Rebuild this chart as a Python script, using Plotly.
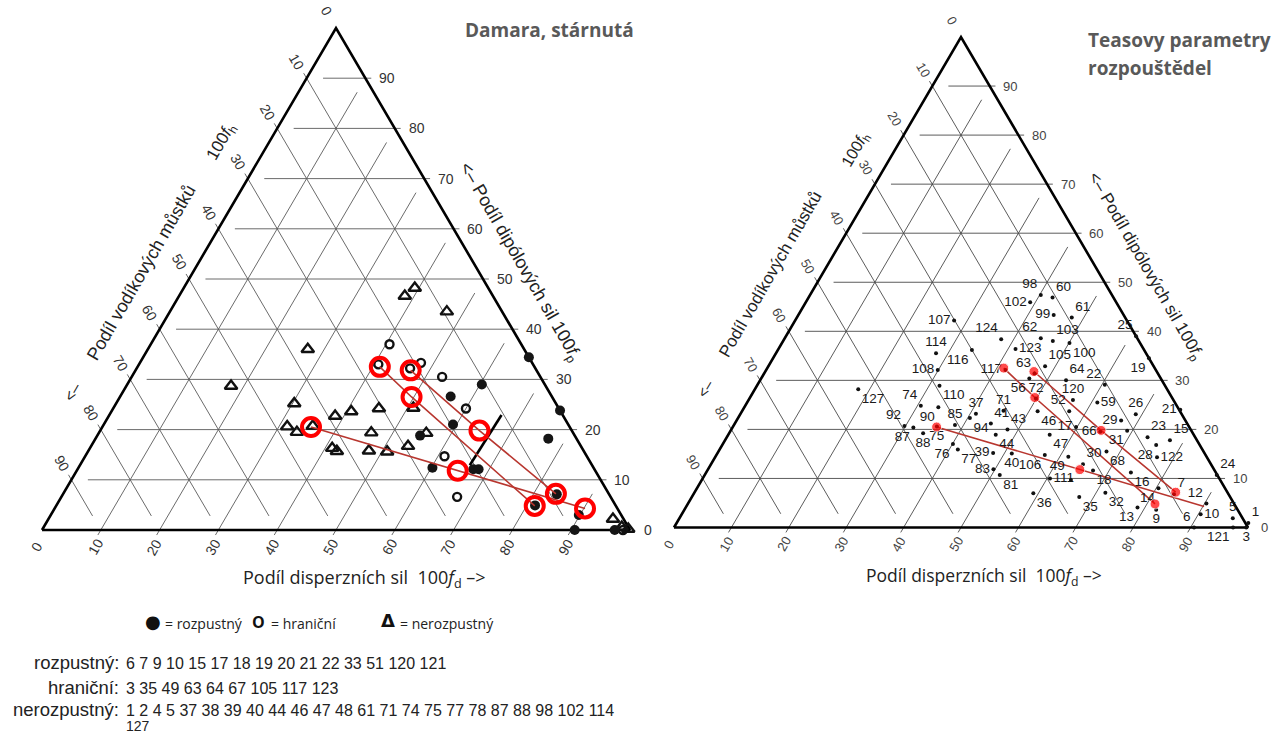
import plotly.graph_objects as go

W, H = 1286, 734

# ---------------- data ----------------
TICKS = [0, 10, 20, 30, 40, 50, 60, 70, 80, 90]
GRID = [10, 20, 30, 40, 50, 60, 70, 80, 90]

# Damara, aged: solubility test results, coordinates (100 fd, 100 fp); 100 fh = 100 - fd - fp
soluble_fd = [65.6, 76.2, 60.3, 56.2, 59.4, 54.9, 77.0, 60.2, 67.3, 68.2, 81.4, 84.0, 89.8, 90.6, 97.4]
soluble_fp = [34.4, 23.8, 29.0, 26.6, 21.0, 18.8, 18.2, 12.4, 12.1, 12.1, 4.9, 7.1, 3.0, 0.0, 0.0]
border_fd = [40.6, 40.7, 46.5, 47.8, 52.8, 60.0, 61.1, 67.3, 98.8]
border_fp = [37.0, 33.0, 32.2, 33.3, 30.5, 24.2, 14.7, 6.6, 0.0]
insol_fd = [38.4, 39.3, 47.1, 27.2, 17.8, 30.3, 31.4, 33.6, 35.7, 38.5, 40.8, 45.2, 51.0, 46.3,
            41.2, 42.3, 47.7, 50.9, 53.9, 55.7, 96.0, 98.3, 99.6]
insol_fp = [46.6, 48.2, 43.5, 36.0, 28.7, 25.2, 20.6, 19.5, 20.7, 22.7, 23.6, 24.2, 24.3, 19.4,
            16.3, 15.7, 15.8, 15.6, 16.7, 19.3, 2.2, 0.6, 0.2]
boundary_fd = [66.7, 66.3]
boundary_fp = [22.9, 12.9]

# solvent mixtures (red)
mix1_fd = [41.2, 49.6, 81.4]
mix1_fp = [32.5, 26.5, 4.8]
mix2_fd = [46.8, 64.5, 83.8]
mix2_fp = [31.8, 19.8, 7.2]
mix3_fd = [35.5, 64.8, 90.2]
mix3_fp = [20.5, 11.8, 4.3]

# Teas parameters of solvents (number, 100 fd, 100 fp)
solvent_no = [98, 60, 102, 99, 61, 107, 124, 62, 103, 123, 100, 114, 116, 105, 108, 117, 63, 64, 56, 22,
              110, 127, 120, 72, 74, 90, 52, 59, 37, 71, 46, 26, 94, 41, 29, 21, 92, 87, 85, 75,
              43, 17, 66, 31, 23, 15, 88, 44, 47, 76, 28, 77, 68, 39, 40, 106, 122, 49, 30, 16,
              83, 81, 111, 18, 24, 36, 35, 32, 7, 14, 12, 13, 9, 10, 6, 5, 1, 121, 3, 19, 25]
solvent_fd = [40.2, 42.5, 39.1, 44.5, 47.9, 27.7, 37.8, 44.6, 47.0, 41.3, 50.1, 27.9, 33.8, 48.2, 29.9, 41.7, 47.1, 53.3, 46.7, 60.5,
              31.8, 18.0, 56.5, 49.9, 30.6, 33.8, 57.0, 61.0, 41.0, 45.5, 51.5, 68.9, 40.4, 44.6, 67.0, 76.2, 29.8, 31.5, 38.5, 35.5,
              48.1, 59.8, 64.5, 69.1, 73.3, 77.5, 33.8, 46.6, 56.0, 40.1, 75.6, 41.5, 67.6, 48.0, 51.3, 57.2, 77.0, 61.5, 64.8, 74.0,
              49.7, 51.4, 60.5, 67.2, 89.2, 59.1, 67.5, 71.6, 83.7, 80.4, 90.3, 78.7, 82.2, 90.4, 90.6, 96.4, 99.6, 97.4, 99.7, 65.5, 61.0]
solvent_fp = [47.4, 46.9, 45.9, 43.3, 42.8, 42.2, 38.4, 38.6, 38.0, 36.4, 37.6, 35.5, 36.2, 32.9, 32.1, 32.1, 31.4, 30.0, 30.4, 29.1,
              28.9, 28.2, 26.0, 26.3, 24.8, 24.5, 23.7, 25.5, 23.2, 23.8, 23.7, 23.1, 22.3, 21.2, 21.8, 24.0, 20.7, 20.4, 20.9, 20.6,
              20.0, 20.5, 19.5, 19.7, 18.4, 17.8, 19.2, 18.9, 18.9, 17.0, 16.8, 15.9, 15.5, 15.2, 15.1, 14.8, 14.3, 14.4, 12.9, 11.2,
              11.9, 10.7, 10.0, 11.6, 10.7, 7.0, 6.2, 7.1, 6.8, 8.0, 4.9, 4.1, 3.6, 2.7, 0.0, 1.9, 0.9, 0.0, 0.0, 34.5, 39.0]
extra_fd = [64.3]
extra_fp = [9.7]

soluble_ids = [6, 7, 9, 10, 15, 17, 18, 19, 20, 21, 22, 33, 51, 120, 121]
border_ids = [3, 35, 49, 63, 64, 67, 105, 117, 123]
insol_ids = [1, 2, 4, 5, 37, 38, 39, 40, 44, 46, 47, 48, 61, 71, 74, 75, 77, 78, 87, 88, 98, 102, 114]
insol_ids_line2 = [127]

# label placement (style)
label_pos = ["top left", "top right", "middle left", "middle left", "top right", "middle left", "top left", "top left", "top right", "middle right",
             "bottom right", "top center", "bottom left", "top right", "middle left", "middle left", "top left", "top right", "bottom left", "top left",
             "bottom right", "bottom right", "top center", "top center", "top left", "bottom left", "top left", "middle right", "top center", "top center",
             "bottom right", "top center", "bottom right", "top right", "middle left", "middle left", "top left", "bottom left", "top center", "bottom center",
             "top right", "middle left", "middle left", "bottom left", "top right", "top right", "bottom center", "bottom right", "bottom right", "bottom left",
             "bottom left", "bottom right", "bottom right", "middle left", "bottom center", "bottom left", "middle right", "bottom left", "top right", "bottom right",
             "middle left", "bottom right", "middle right", "bottom right", "top right", "bottom right", "bottom right", "bottom right", "top right", "bottom left",
             "top left", "bottom left", "bottom center", "middle right", "top left", "top center", "top right", "bottom left", "bottom center", "bottom left", "top left"]


# ---------------- geometry ----------------
def to_xy(fd, fp):
    xs, ys = [], []
    for a, b in zip(fd, fp):
        if a is None:
            xs.append(None); ys.append(None)
        else:
            xs.append(a + b / 2.0); ys.append(b)
    return xs, ys


def axis_ranges(bx0, bx1, yb, ya, px0, px1):
    sx = (bx1 - bx0) / 100.0
    sy = (yb - ya) / 100.0
    return [(px0 - bx0) / sx, (px1 - bx0) / sx], [(yb - H) / sy, yb / sy]


L_xr, L_yr = axis_ranges(42, 630, 530, 28, 0, W / 2)
R_xr, R_yr = axis_ranges(674, 1248, 527.5, 37, W / 2, W)


def grid_xy(ext=1.0, gap=2.8):
    fd, fp = [], []
    for k in GRID:
        for a, b in [((100 - k + ext, k), (gap, k)),
                     ((-ext, 100 - k + ext), (100 - k - gap, gap)),
                     ((k, -ext), (k, 100 - k - gap))]:
            fd += [a[0], b[0], None]
            fp += [a[1], b[1], None]
    return to_xy(fd, fp)


fig = go.Figure()
RED_LINE = "#b8362f"
RED = "#ff0000"


def add_frame(xa, ya, gcol, gw):
    gx, gy = grid_xy()
    fig.add_trace(go.Scatter(x=gx, y=gy, mode="lines", line=dict(color=gcol, width=gw),
                             xaxis=xa, yaxis=ya, hoverinfo="skip"))
    ex, ey = to_xy([0, 100, 0, 0], [0, 0, 100, 0])
    fig.add_trace(go.Scatter(x=ex, y=ey, mode="lines", line=dict(color="black", width=2.6),
                             xaxis=xa, yaxis=ya, hoverinfo="skip"))


# ----- left chart -----
add_frame("x", "y", "#5a5a5a", 0.9)
bx, by = to_xy(boundary_fd, boundary_fp)
fig.add_trace(go.Scatter(x=bx, y=by, mode="lines", line=dict(color="black", width=2.6), xaxis="x", yaxis="y"))
ix, iy = to_xy(insol_fd, insol_fp)
fig.add_trace(go.Scatter(x=ix, y=iy, mode="markers", xaxis="x", yaxis="y",
                         marker=dict(symbol="triangle-up-open", size=11, color="#111", line=dict(width=2.4, color="#111"))))
ox, oy = to_xy(border_fd, border_fp)
fig.add_trace(go.Scatter(x=ox, y=oy, mode="markers", xaxis="x", yaxis="y",
                         marker=dict(symbol="circle-open", size=8, color="#111", line=dict(width=2.4, color="#111"))))
sx_, sy_ = to_xy(soluble_fd, soluble_fp)
fig.add_trace(go.Scatter(x=sx_, y=sy_, mode="markers", xaxis="x", yaxis="y",
                         marker=dict(symbol="circle", size=10, color="#151515")))
for mfd, mfp in [(mix1_fd, mix1_fp), (mix2_fd, mix2_fp), (mix3_fd, mix3_fp)]:
    mx, my = to_xy(mfd, mfp)
    fig.add_trace(go.Scatter(x=mx, y=my, mode="lines", line=dict(color=RED_LINE, width=1.6), xaxis="x", yaxis="y"))
for mfd, mfp in [(mix1_fd, mix1_fp), (mix2_fd, mix2_fp), (mix3_fd, mix3_fp)]:
    mx, my = to_xy(mfd, mfp)
    fig.add_trace(go.Scatter(x=mx, y=my, mode="markers", xaxis="x", yaxis="y",
                             marker=dict(symbol="circle-open", size=18, color=RED, line=dict(width=4, color=RED))))

# ----- right chart -----
add_frame("x2", "y2", "#4a4a4a", 0.9)
for mfd, mfp in [(mix1_fd, mix1_fp), (mix2_fd, mix2_fp), (mix3_fd, mix3_fp)]:
    mx, my = to_xy(mfd, mfp)
    fig.add_trace(go.Scatter(x=mx, y=my, mode="lines", line=dict(color=RED_LINE, width=1.6), xaxis="x2", yaxis="y2"))
qx, qy = to_xy(solvent_fd, solvent_fp)
fig.add_trace(go.Scatter(x=qx, y=qy, mode="markers+text", xaxis="x2", yaxis="y2",
                         text=[str(n) for n in solvent_no], textposition=label_pos,
                         textfont=dict(family="Liberation Sans", size=13.5, color="#1a1a1a"),
                         marker=dict(size=4, color="#111")))
ex_, ey_ = to_xy(extra_fd, extra_fp)
fig.add_trace(go.Scatter(x=ex_, y=ey_, mode="markers", xaxis="x2", yaxis="y2", marker=dict(size=4, color="#111")))
for mfd, mfp, sizes in [(mix1_fd, mix1_fp, [10, 10, 10]), (mix2_fd, mix2_fp, [10, 10, 10]), (mix3_fd, mix3_fp, [10, 10, 0])]:
    mx, my = to_xy(mfd, mfp)
    fig.add_trace(go.Scatter(x=mx, y=my, mode="markers", xaxis="x2", yaxis="y2",
                             marker=dict(size=sizes, color=RED)))

# ---------------- annotations ----------------
ann = []


def txt(text, x, y, size, color="#222", family="Liberation Sans", angle=0, xanchor="center",
        yanchor="middle", xref="paper", yref="paper"):
    if xref == "paper":
        x, y = x / W, 1 - y / H
    ann.append(dict(text=text, x=x, y=y, xref=xref, yref=yref, showarrow=False, textangle=angle,
                    xanchor=xanchor, yanchor=yanchor, font=dict(family=family, size=size, color=color)))


def tick_labels(xr, yr, size, color):
    for k in TICKS:
        # right edge (fp)
        u, v = to_xy([100 - k + 2.0], [k])
        txt(str(k), u[0], v[0], size, color, xanchor="left", xref=xr, yref=yr)
        # left edge (fh)
        u, v = to_xy([-3.3], [103.3 - k])
        txt(str(k), u[0], v[0], size, color, angle=60, xref=xr, yref=yr)
        # bottom (fd)
        u, v = to_xy([k + 0.8], [-3.4])
        txt(str(k), u[0], v[0], size, color, angle=-60, xref=xr, yref=yr)


tick_labels("x", "y", 14, "#333")
tick_labels("x2", "y2", 13, "#444")

# axis titles - left chart
txt("Podíl vodíkových můstků", 141, 273, 18, angle=-60)
txt("100<i>f</i><sub>h</sub>", 222, 142, 17, angle=-60)
txt("<–", 72, 392, 16, angle=-60)
txt("<– Podíl dipólových sil 100<i>f</i><sub>p</sub>", 520, 262, 18, angle=60)
txt("Podíl disperzních sil  100<i>f</i><sub>d</sub> –>", 365, 578, 18, family="Open Sans")
# axis titles - right chart
txt("Podíl vodíkových můstků", 770, 274, 17, angle=-60)
txt("100<i>f</i><sub>h</sub>", 855, 150, 16, angle=-60)
txt("<–", 705, 388, 15, angle=-60)
txt("<– Podíl dipólových sil 100<i>f</i><sub>p</sub>", 1145, 267, 17, angle=60)
txt("Podíl disperzních sil  100<i>f</i><sub>d</sub> –>", 984, 576, 17.5, family="Open Sans")

# titles
txt("<b>Damara, stárnutá</b>", 463, 30, 19, color="#595959", family="Open Sans", xanchor="left")
txt("<b>Teasovy parametry</b>", 1086, 40, 19, color="#595959", family="Open Sans", xanchor="left")
txt("<b>rozpouštědel</b>", 1086, 68, 19, color="#595959", family="Open Sans", xanchor="left")

# legend line
txt("●", 153, 621, 18, color="#111", family="DejaVu Sans")
txt("= rozpustný", 163, 623, 14, family="Open Sans", xanchor="left")
txt("<b>O</b>", 258, 622, 16, color="#111", family="Open Sans")
txt("= hraniční", 269, 623, 14, family="Open Sans", xanchor="left")
txt("<b>Δ</b>", 388, 620, 18, color="#111", family="DejaVu Sans")
txt("= nerozpustný", 398, 623, 14, family="Open Sans", xanchor="left")

# lists
txt("rozpustný:", 121, 662, 18.5, xanchor="right")
txt(" ".join(str(i) for i in soluble_ids), 124, 663, 16, xanchor="left")
txt("hraniční:", 121, 687, 18.5, xanchor="right")
txt(" ".join(str(i) for i in border_ids), 124, 688, 16, xanchor="left")
txt("nerozpustný:", 121, 709, 18.5, xanchor="right")
txt(" ".join(str(i) for i in insol_ids), 124, 710, 16, xanchor="left")
txt(" ".join(str(i) for i in insol_ids_line2), 124, 726, 14, xanchor="left")

fig.update_layout(
    width=W, height=H, margin=dict(l=0, r=0, t=0, b=0),
    paper_bgcolor="white", plot_bgcolor="white", showlegend=False,
    xaxis=dict(domain=[0, 0.5], range=L_xr, visible=False, anchor="y", fixedrange=True),
    yaxis=dict(domain=[0, 1], range=L_yr, visible=False, anchor="x", fixedrange=True),
    xaxis2=dict(domain=[0.5, 1], range=R_xr, visible=False, anchor="y2", fixedrange=True),
    yaxis2=dict(domain=[0, 1], range=R_yr, visible=False, anchor="x2", fixedrange=True),
    annotations=ann,
)

fig.write_html("out.html", config={"displayModeBar": False},
               post_script="document.body.style.margin='0';document.body.style.overflow='hidden';")
